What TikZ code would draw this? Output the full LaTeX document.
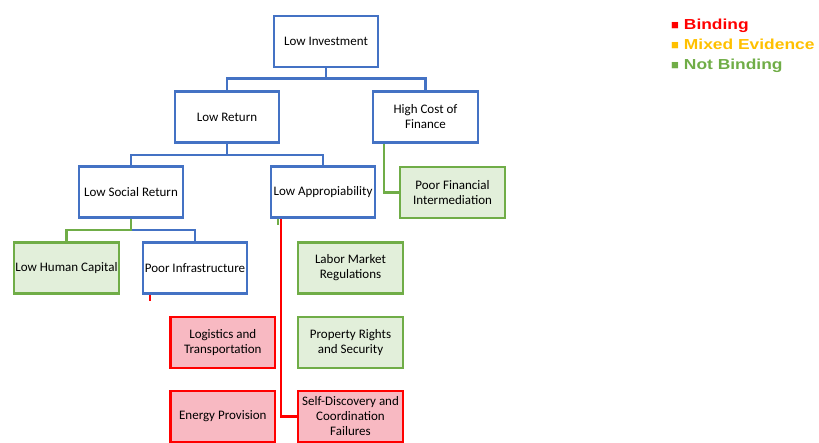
\documentclass[tikz,border=0pt]{standalone}
\usepackage{fontspec}
\setmainfont{Carlito}
\newfontfamily\legendfont{Liberation Sans}
\usetikzlibrary{positioning}
\definecolor{treeblue}{RGB}{68,114,196}
\definecolor{treegreen}{RGB}{112,173,71}
\definecolor{treered}{RGB}{255,0,0}
\definecolor{treeorange}{RGB}{255,192,0}
\definecolor{greenfill}{RGB}{226,239,218}
\definecolor{redfill}{RGB}{248,185,194}

\begin{document}
\begin{tikzpicture}[x=1pt, y=-1pt, line width=2.2pt,
    box/.style={draw, rectangle, minimum width=104.5pt, minimum height=51pt, inner sep=0.5pt, align=center, font=\fontsize{13}{15}\selectfont},
    bluebox/.style={box, draw=treeblue, fill=white},
    greenbox/.style={box, draw=treegreen, fill=greenfill},
    redbox/.style={box, draw=treered, fill=redfill},
    blueline/.style={draw=treeblue},
    greenline/.style={draw=treegreen},
    redline/.style={draw=treered},
    legend/.style={anchor=base west, inner sep=0pt, font=\legendfont\bfseries\fontsize{14.5}{18}\selectfont}]
        \useasboundingbox (0,0) rectangle (819,443);
        \clip (0,0) rectangle (819,443);

        % tree
        \node[bluebox] (inv) at (326,41.5) {Low Investment};
        \node[bluebox] (ret) at (227,117) {Low Return};
        \node[bluebox] (cost) at (425.5,117) {High Cost of\\Finance};
        \node[bluebox] (soc) at (131,192) {Low Social Return};
        \node[bluebox] (app) at (323,192) {Low Appropiability};
        \node[greenbox] (fin) at (452.5,192.5) {Poor Financial\\Intermediation};
        \node[greenbox] (hum) at (66.5,268) {Low Human Capital};
        \node[bluebox] (infra) at (195,268) {Poor Infrastructure};
        \node[greenbox] (labor) at (350.5,268) {Labor Market\\Regulations};
        \node[greenbox] (prop) [below=21pt of labor] {Property Rights\\and Security};
        \node[redbox] (selfd) [below=21pt of prop] {Self-Discovery and\\Coordination\\Failures};
        \node[redbox] (logi) [left=21pt of prop] {Logistics and\\Transportation};
        \node[redbox] (energy) [below=21pt of logi] {Energy Provision};

        % connectors
        \draw[blueline] (inv.south) -- ++(0,10.5) coordinate (j1) -| (ret.north);
        \draw[blueline] (j1) -| (cost.north);
        \draw[blueline] (ret.south) -- ++(0,11.5) coordinate (j2) -| (soc.north);
        \draw[blueline] (j2) -| (app.north);
        \draw[greenline] ([xshift=12pt]cost.south west) |- (fin.west);
        \draw[blueline] (soc.south) -- ++(0,11.5) coordinate (j3) -| (infra.north);
        \draw[greenline] (soc.south) -- (j3) -| (hum.north);
        \draw[redline] ([xshift=8pt]infra.south west) -- ++(0,6.5);
        \draw[greenline] ([xshift=8pt]app.south west) -- ++(0,6);
        \draw[redline] ([xshift=11pt]app.south west) |- (selfd.west);

        % legend
        \node[legend, text=treered] (lgbind) at (670,30) {{\fontsize{13}{13}\selectfont ■}\hspace{5pt}\scalebox{1.2}[1]{Binding}};
        \node[legend, text=treeorange] (lgmix) at (670,50) {{\fontsize{13}{13}\selectfont ■}\hspace{5pt}\scalebox{1.2}[1]{Mixed Evidence}};
        \node[legend, text=treegreen] (lgnot) at (670,70) {{\fontsize{13}{13}\selectfont ■}\hspace{5pt}\scalebox{1.2}[1]{Not Binding}};
\end{tikzpicture}
\end{document}
